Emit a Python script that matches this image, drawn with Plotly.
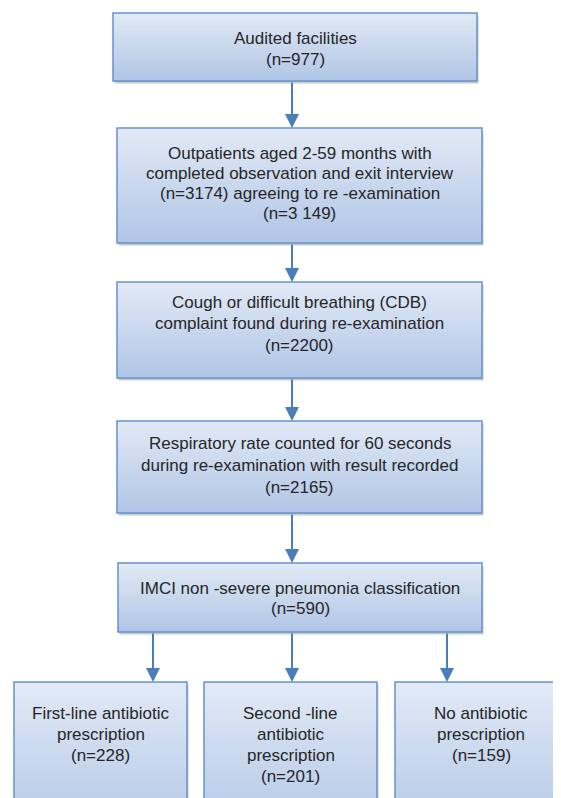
import plotly.graph_objects as go

# ---- content ----
stage_lines = [
    ["Audited facilities"],
    ["Outpatients aged 2-59 months with", "completed observation and exit interview",
     "(n=3174) agreeing to re -examination"],
    ["Cough or difficult breathing (CDB)", "complaint found during re-examination"],
    ["Respiratory rate counted for 60 seconds", "during re-examination with result recorded"],
    ["IMCI non -severe pneumonia classification"],
]
stage_counts = ["977", "3 149", "2200", "2165", "590"]

outcome_lines = [
    ["First-line antibiotic", "prescription"],
    ["Second -line", "antibiotic", "prescription"],
    ["No antibiotic", "prescription"],
]
outcome_counts = ["228", "201", "159"]

# ---- layout geometry (pixels in the window, y downward) ----
W, H = 561, 798
OFF = 8  # default page body margin
stage_boxes = [  # x0, x1, y0, y1
    (113, 477, 13, 81),
    (117, 482, 128, 243),
    (117, 482, 282, 378),
    (117, 482, 421, 513),
    (118, 482, 563, 632),
]
stage_text_y = [
    [38, 59],
    [153, 173, 193, 213],
    [302, 323, 345],
    [443, 465, 487],
    [588, 608],
]
outcome_boxes = [
    (14, 187, 682, 840),
    (204, 377, 682, 840),
    (395, 567, 682, 840),
]
outcome_text_y = [
    [713, 734, 755],
    [713, 734, 755, 776],
    [713, 734, 755],
]
main_x = 292
branch_x = [153, 292, 447]

TOP = (226, 234, 246)
BOT = (176, 197, 230)
BORDER = "#6592cc"
ARROW = "#4a7ebb"
TXT = "#262626"
FONT = "Liberation Sans, Arial, sans-serif"
FS = 17

shapes = []
annotations = []


def mix(a, b, t):
    return "rgb(%d,%d,%d)" % tuple(round(a[i] + (b[i] - a[i]) * t) for i in range(3))


def draw_box(x0, x1, y0, y1):
    shapes.append(dict(type="rect", x0=x0 + 2, x1=x1 + 2, y0=y0 + 3, y1=y1 + 3,
                       line=dict(width=0), fillcolor="rgba(0,0,0,0.10)", layer="below"))
    shapes.append(dict(type="rect", x0=x0 + 1, x1=x1 + 1, y0=y0 + 2, y1=y1 + 2,
                       line=dict(width=0), fillcolor="rgba(0,0,0,0.12)", layer="below"))
    n = 30
    h = (y1 - y0) / n
    for i in range(n):
        shapes.append(dict(type="rect", x0=x0, x1=x1, y0=y0 + i * h, y1=y0 + (i + 1) * h + 0.6,
                           line=dict(width=0), fillcolor=mix(TOP, BOT, (i + 0.5) / n), layer="below"))
    shapes.append(dict(type="rect", x0=x0, x1=x1, y0=y0, y1=y1,
                       line=dict(color=BORDER, width=1.5), fillcolor="rgba(0,0,0,0)", layer="below"))


def add_text(xc, lines, ys):
    for t, y in zip(lines, ys):
        annotations.append(dict(x=xc, y=y, xref="x", yref="y", text=t, showarrow=False,
                                font=dict(family=FONT, size=FS, color=TXT),
                                xanchor="center", yanchor="middle"))


def add_arrow(x, ytail, yhead):
    annotations.append(dict(x=x, y=yhead, ax=x, ay=ytail, xref="x", yref="y",
                            axref="x", ayref="y", text="", showarrow=True,
                            arrowhead=2, arrowsize=1.4, arrowwidth=2, arrowcolor=ARROW,
                            standoff=0, startstandoff=0))


for (x0, x1, y0, y1), lines, cnt, ys in zip(stage_boxes, stage_lines, stage_counts, stage_text_y):
    draw_box(x0, x1, y0, y1)
    add_text((x0 + x1) / 2, lines + ["(n=%s)" % cnt], ys)

for (x0, x1, y0, y1), lines, cnt, ys in zip(outcome_boxes, outcome_lines, outcome_counts, outcome_text_y):
    draw_box(x0, x1, y0, y1)
    add_text((x0 + x1) / 2, lines + ["(n=%s)" % cnt], ys)

for i in range(len(stage_boxes) - 1):
    add_arrow(main_x, stage_boxes[i][3], stage_boxes[i + 1][2])

for bx, ob in zip(branch_x, outcome_boxes):
    add_arrow(bx, stage_boxes[-1][3], ob[2])

fig = go.Figure()
fig.add_trace(go.Scatter(x=[OFF, W], y=[OFF, H], mode="markers", marker=dict(opacity=0),
                         hoverinfo="skip", showlegend=False))
fig.update_layout(
    width=W - OFF, height=H - OFF, margin=dict(l=0, r=0, t=0, b=0),
    paper_bgcolor="white", plot_bgcolor="white",
    xaxis=dict(range=[OFF, W], visible=False, fixedrange=True),
    yaxis=dict(range=[H, OFF], visible=False, fixedrange=True),
    shapes=shapes, annotations=annotations, showlegend=False,
)
fig.write_html("out.html")
